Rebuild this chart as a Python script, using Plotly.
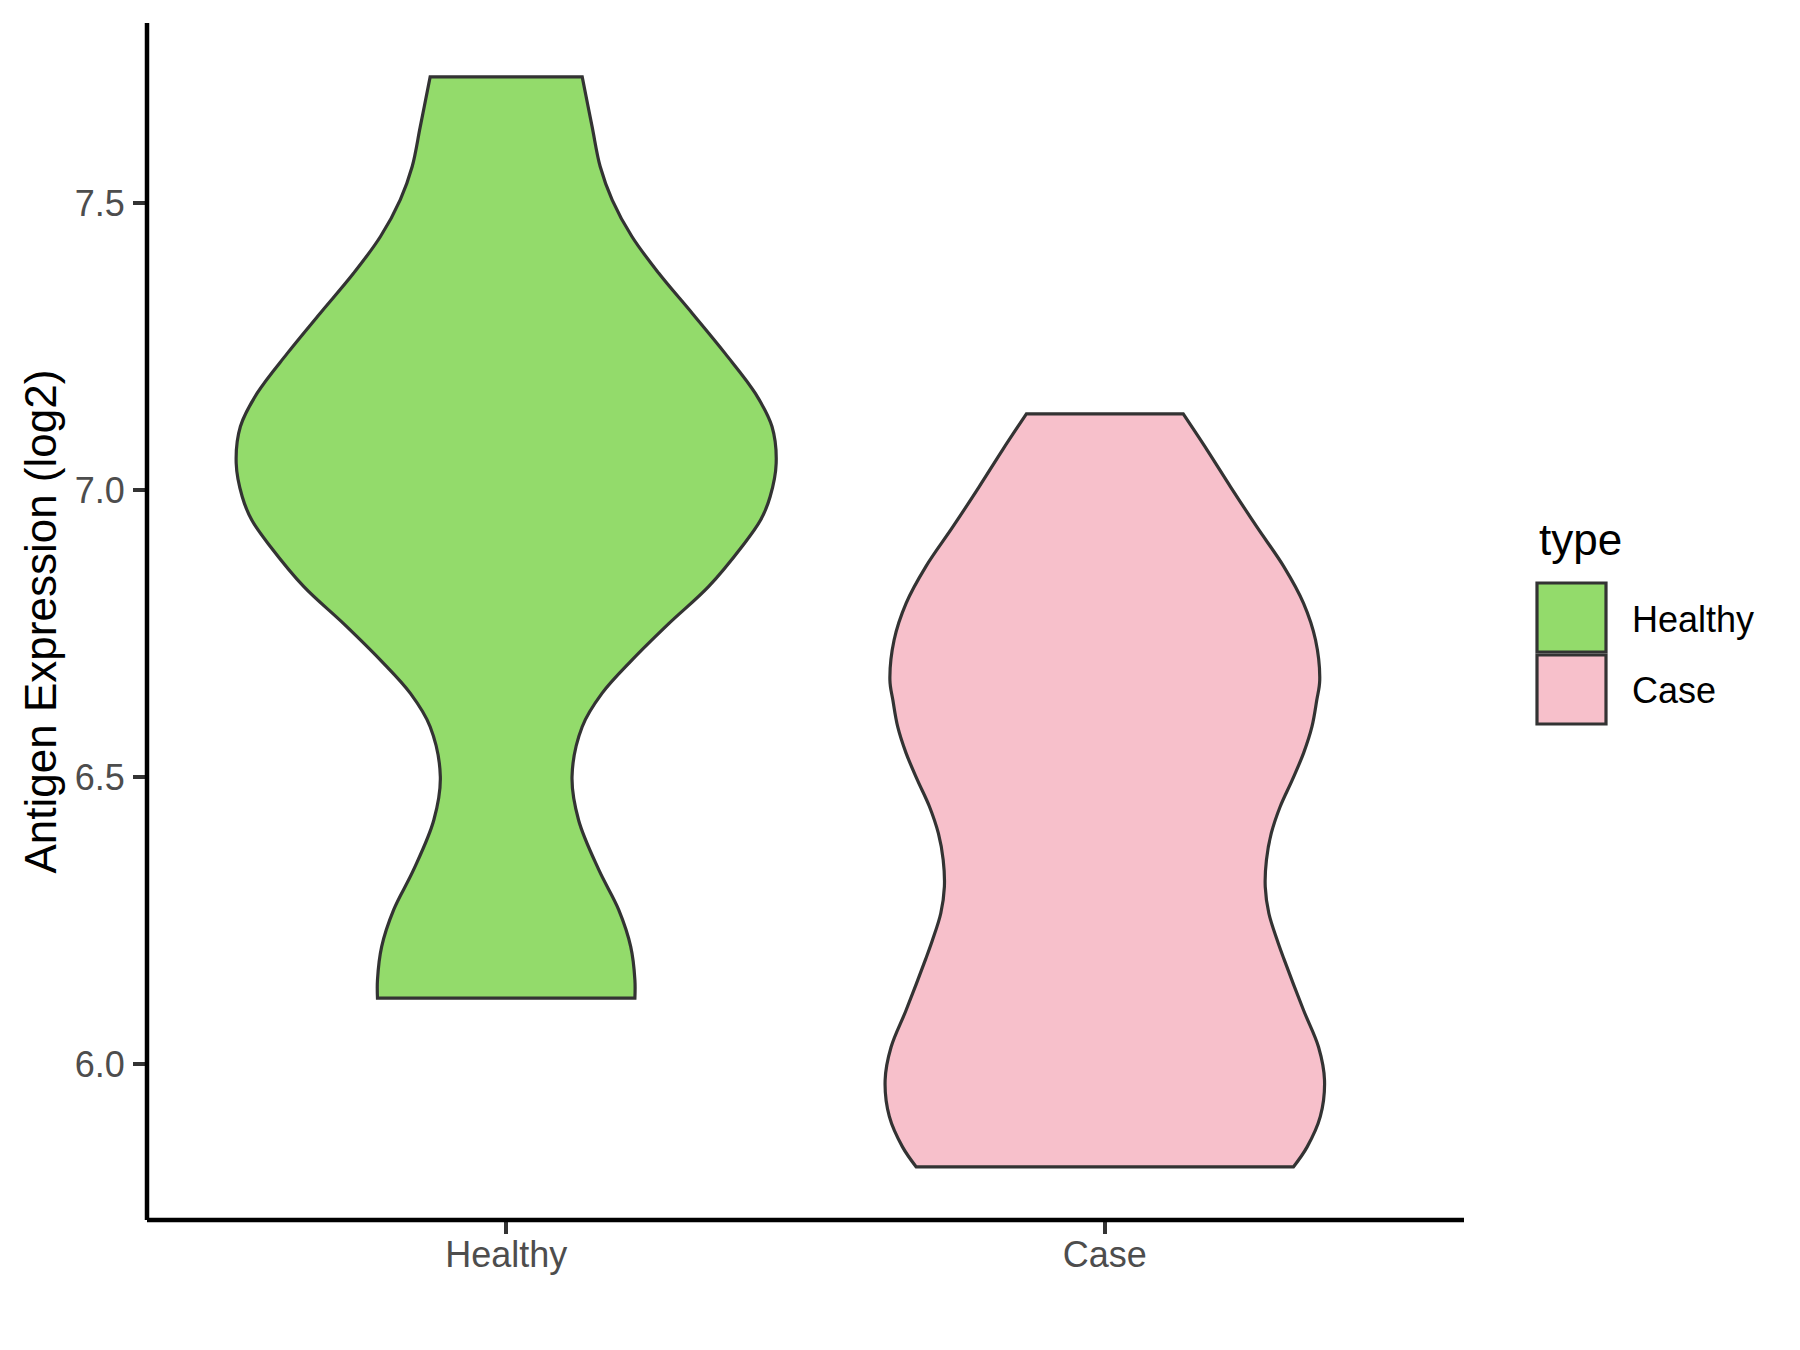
import plotly.graph_objects as go

# ---- data (violin outline: y level -> half width in x units) ----
categories = ["Healthy", "Case"]
fill_colors = ["#93DB6B", "#F7C0CB"]

healthy_y = [6.115, 6.147, 6.205, 6.269, 6.338, 6.425, 6.501, 6.588, 6.646, 6.704, 6.768,
             6.832, 6.902, 6.948, 6.989, 7.047, 7.111, 7.169, 7.238, 7.308, 7.378, 7.442,
             7.506, 7.564, 7.633, 7.720]
healthy_hw = [0.215, 0.215, 0.208, 0.188, 0.155, 0.121, 0.110, 0.127, 0.160, 0.210, 0.272,
              0.338, 0.394, 0.425, 0.441, 0.451, 0.444, 0.416, 0.366, 0.311, 0.255, 0.210,
              0.177, 0.157, 0.1436, 0.127]

case_y = [5.821, 5.856, 5.909, 5.972, 6.030, 6.094, 6.184, 6.216, 6.263, 6.309, 6.356,
          6.402, 6.449, 6.495, 6.542, 6.588, 6.634, 6.669, 6.739, 6.803, 6.867, 6.936,
          7.006, 7.070, 7.133]
case_hw = [0.315, 0.338, 0.360, 0.367, 0.357, 0.332, 0.299, 0.288, 0.274, 0.268, 0.270,
           0.278, 0.293, 0.313, 0.332, 0.346, 0.354, 0.359, 0.352, 0.332, 0.299, 0.254,
           0.210, 0.171, 0.131]

y_ticks = [6.0, 6.5, 7.0, 7.5]
y_tick_labels = ["6.0", "6.5", "7.0", "7.5"]
y_range = [5.7286, 7.814]
x_range = [0.4, 2.6]

profiles = [(healthy_y, healthy_hw), (case_y, case_hw)]

FONT = "Liberation Sans, Arial, sans-serif"
OUTLINE = "#333333"
fig = go.Figure()

for i, (cat, (ys, hws)) in enumerate(zip(categories, profiles)):
    c = i + 1
    left_x = [c - w for w in hws]
    right_x = [c + w for w in reversed(hws)]
    left_y = list(ys)
    right_y = list(reversed(ys))
    # repeat the four corner points so the spline keeps them sharp
    xs = [left_x[0]] + left_x + [left_x[-1]] + [right_x[0]] + right_x + [right_x[-1]] + [left_x[0]]
    yy = [left_y[0]] + left_y + [left_y[-1]] + [right_y[0]] + right_y + [right_y[-1]] + [left_y[0]]
    fig.add_trace(go.Scatter(
        x=xs, y=yy, mode="lines", fill="toself", fillcolor=fill_colors[i],
        line=dict(color=OUTLINE, width=3.2, shape="spline", smoothing=1.0, simplify=False),
        name=cat, showlegend=False, hoverinfo="skip"))

# page body has an 8px margin, so figure coordinates = screenshot - 8
L, T, R_EDGE, B_EDGE = 139, 15, 1456, 1212
fig.update_layout(
    width=1800, height=1350,
    margin=dict(l=L, r=1800 - R_EDGE, t=T, b=1350 - B_EDGE),
    paper_bgcolor="white", plot_bgcolor="white",
    font=dict(family=FONT, color="#4D4D4D", size=36),
    xaxis=dict(range=x_range, tickvals=[1, 2], ticktext=categories,
               showgrid=False, zeroline=False, showline=False,
               ticks="outside", ticklen=13, tickwidth=3.5,
               tickcolor=OUTLINE, tickfont=dict(size=36, color="#4D4D4D"),
               ticklabelstandoff=-10),
    yaxis=dict(range=y_range, tickvals=y_ticks, ticktext=y_tick_labels,
               showgrid=False, zeroline=False, showline=False,
               ticks="outside", ticklen=13, tickwidth=3.5,
               tickcolor=OUTLINE, tickfont=dict(size=36, color="#4D4D4D"),
               ticklabelstandoff=1),
)

# axis lines centred on the panel edges (ggplot style)
fig.add_shape(type="line", xref="paper", yref="paper", x0=0, x1=1, y0=0, y1=0,
              line=dict(color="black", width=4.5))
fig.add_shape(type="line", xref="paper", yref="paper", x0=0, x1=0, y0=0, y1=1,
              line=dict(color="black", width=4.5))

PW, PH = R_EDGE - L, B_EDGE - T


def px_x(x):
    return (x - L) / PW


def px_y(y):
    return (B_EDGE - y) / PH


# y-axis title
fig.add_annotation(text="Antigen Expression (log2)", xref="paper", yref="paper",
                   x=px_x(32), y=0.5, textangle=-90, showarrow=False,
                   xanchor="center", yanchor="middle",
                   font=dict(family=FONT, size=44, color="black"))

# legend (drawn to match ggplot keys)
fig.add_annotation(text="type", xref="paper", yref="paper", x=px_x(1529), y=px_y(531),
                   xanchor="left", yanchor="middle", showarrow=False,
                   font=dict(family=FONT, size=44, color="black"))
key_tops = [575, 647]
label_centers = [611, 682]
for i, cat in enumerate(categories):
    fig.add_shape(type="rect", xref="paper", yref="paper",
                  x0=px_x(1529), x1=px_x(1598),
                  y0=px_y(key_tops[i] + 69), y1=px_y(key_tops[i]),
                  fillcolor=fill_colors[i], line=dict(color=OUTLINE, width=3.2))
    fig.add_annotation(text=cat, xref="paper", yref="paper", x=px_x(1622), y=px_y(label_centers[i]),
                       xanchor="left", yanchor="middle", showarrow=False,
                       font=dict(family=FONT, size=36, color="black"))

fig.write_html("out.html")
